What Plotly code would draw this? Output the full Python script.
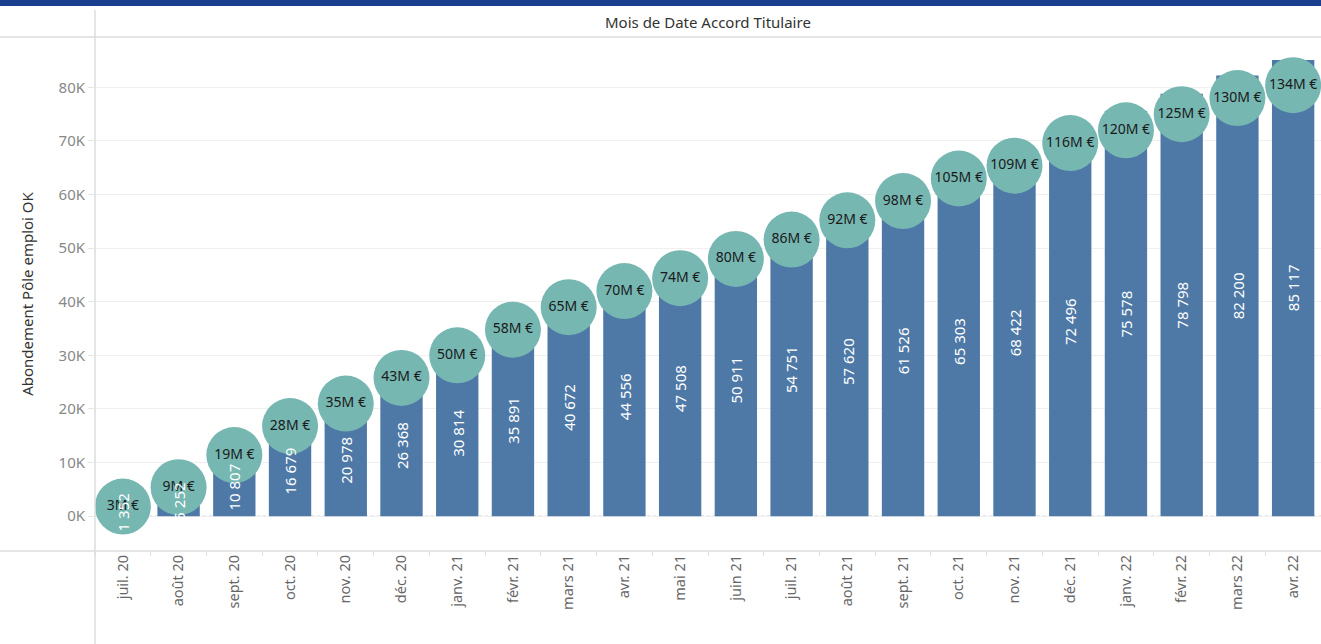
import plotly.graph_objects as go

months = ["juil. 20", "août 20", "sept. 20", "oct. 20", "nov. 20", "déc. 20",
          "janv. 21", "févr. 21", "mars 21", "avr. 21", "mai 21", "juin 21",
          "juil. 21", "août 21", "sept. 21", "oct. 21", "nov. 21", "déc. 21",
          "janv. 22", "févr. 22", "mars 22", "avr. 22"]
abondement = [1352, 5252, 10807, 16679, 20978, 26368, 30814, 35891, 40672, 44556,
              47508, 50911, 54751, 57620, 61526, 65303, 68422, 72496, 75578, 78798,
              82200, 85117]
montant_meur = [3, 9, 19, 28, 35, 43, 50, 58, 65, 70, 74, 80, 86, 92, 98, 105,
                109, 116, 120, 125, 130, 134]
ytick_vals = [0, 10000, 20000, 30000, 40000, 50000, 60000, 70000, 80000]
ytick_text = ["0K", "10K", "20K", "30K", "40K", "50K", "60K", "70K", "80K"]

FONT = "Noto Sans"
y_range = [-6500, 89400]
scale = 600.0  # K per M€ for the synchronized secondary axis

bar_text = [f"{v:,}".replace(",", " ") for v in abondement]
circle_text = [f"{v}M €" for v in montant_meur]

fig = go.Figure()
fig.add_trace(go.Bar(
    x=months, y=abondement,
    marker=dict(color="#4e79a7", line=dict(width=0)),
    hoverinfo="x+y", showlegend=False,
))
fig.add_trace(go.Scatter(
    x=months, y=montant_meur, yaxis="y2", mode="markers+text",
    text=circle_text, textposition="middle center",
    textfont=dict(color="#1a1a1a", size=14, family=FONT),
    marker=dict(color="#76b7b2", size=56, line=dict(width=0)),
    cliponaxis=False, showlegend=False,
))

plot_h = 644 - 37 - 93
plot_w = 1321 - 95
def py(pix):
    return 1 - (pix - 37) / plot_h
def px(pix):
    return (pix - 95) / plot_w

annotations = [
    dict(text="Mois de Date Accord Titulaire", xref="paper", yref="paper",
         x=0.5, y=py(22), showarrow=False, xanchor="center", yanchor="middle",
         font=dict(size=15, color="#333", family=FONT)),
]
for m, v, t in zip(months, abondement, bar_text):
    annotations.append(dict(
        x=m, y=v / 2, xref="x", yref="y", text=t, textangle=-90,
        showarrow=False, xanchor="center", yanchor="middle",
        font=dict(size=15, color="white", family=FONT),
    ))

fig.update_layout(
    width=1321, height=644,
    margin=dict(l=95, r=0, t=37, b=93),
    paper_bgcolor="white", plot_bgcolor="white",
    font=dict(family=FONT, color="#666"),
    bargap=0.24,
    xaxis=dict(
        type="category", range=[-0.5, len(months) - 0.5], tickangle=-90, showgrid=False,
        tickfont=dict(size=14.5, color="#666", family=FONT),
        ticks="outside", ticklen=4, tickcolor="#e0e0e0", tickson="boundaries",
        showline=False, zeroline=False,
    ),
    yaxis=dict(
        range=y_range, tickvals=ytick_vals, ticktext=ytick_text,
        tickfont=dict(size=15, color="#888", family=FONT),
        showgrid=True, gridcolor="#f0f0f0", gridwidth=1,
        ticks="outside", ticklen=6, tickcolor="#e6e6e6",
        zeroline=False, showline=False,
        title=dict(text="Abondement Pôle emploi OK",
                   font=dict(size=15, color="#333", family=FONT), standoff=21),
    ),
    yaxis2=dict(
        range=[y_range[0] / scale, y_range[1] / scale], overlaying="y",
        side="right", visible=False, showgrid=False,
    ),
    shapes=[
        dict(type="rect", xref="paper", yref="paper", x0=px(0), x1=1, y0=py(6), y1=py(0),
             fillcolor="#1b3f8f", line=dict(width=0), layer="above"),
        dict(type="line", xref="paper", yref="paper", x0=px(0), x1=1, y0=1, y1=1,
             line=dict(color="#dcdcdc", width=1.5)),
        dict(type="line", xref="paper", yref="paper", x0=px(0), x1=1, y0=0, y1=0,
             line=dict(color="#dcdcdc", width=1.5)),
        dict(type="line", xref="paper", yref="paper", x0=0, x1=0, y0=py(644), y1=py(10),
             line=dict(color="#dcdcdc", width=1.5)),
        dict(type="line", xref="paper", yref="y", x0=0, x1=1, y0=0, y1=0,
             line=dict(color="#bbbbbb", width=1, dash="dot"), layer="below"),
    ],
    annotations=annotations,
)

fig.write_html("out.html", config={"displayModeBar": False},
               post_script="document.body.style.margin='0';document.body.style.overflow='hidden';")
